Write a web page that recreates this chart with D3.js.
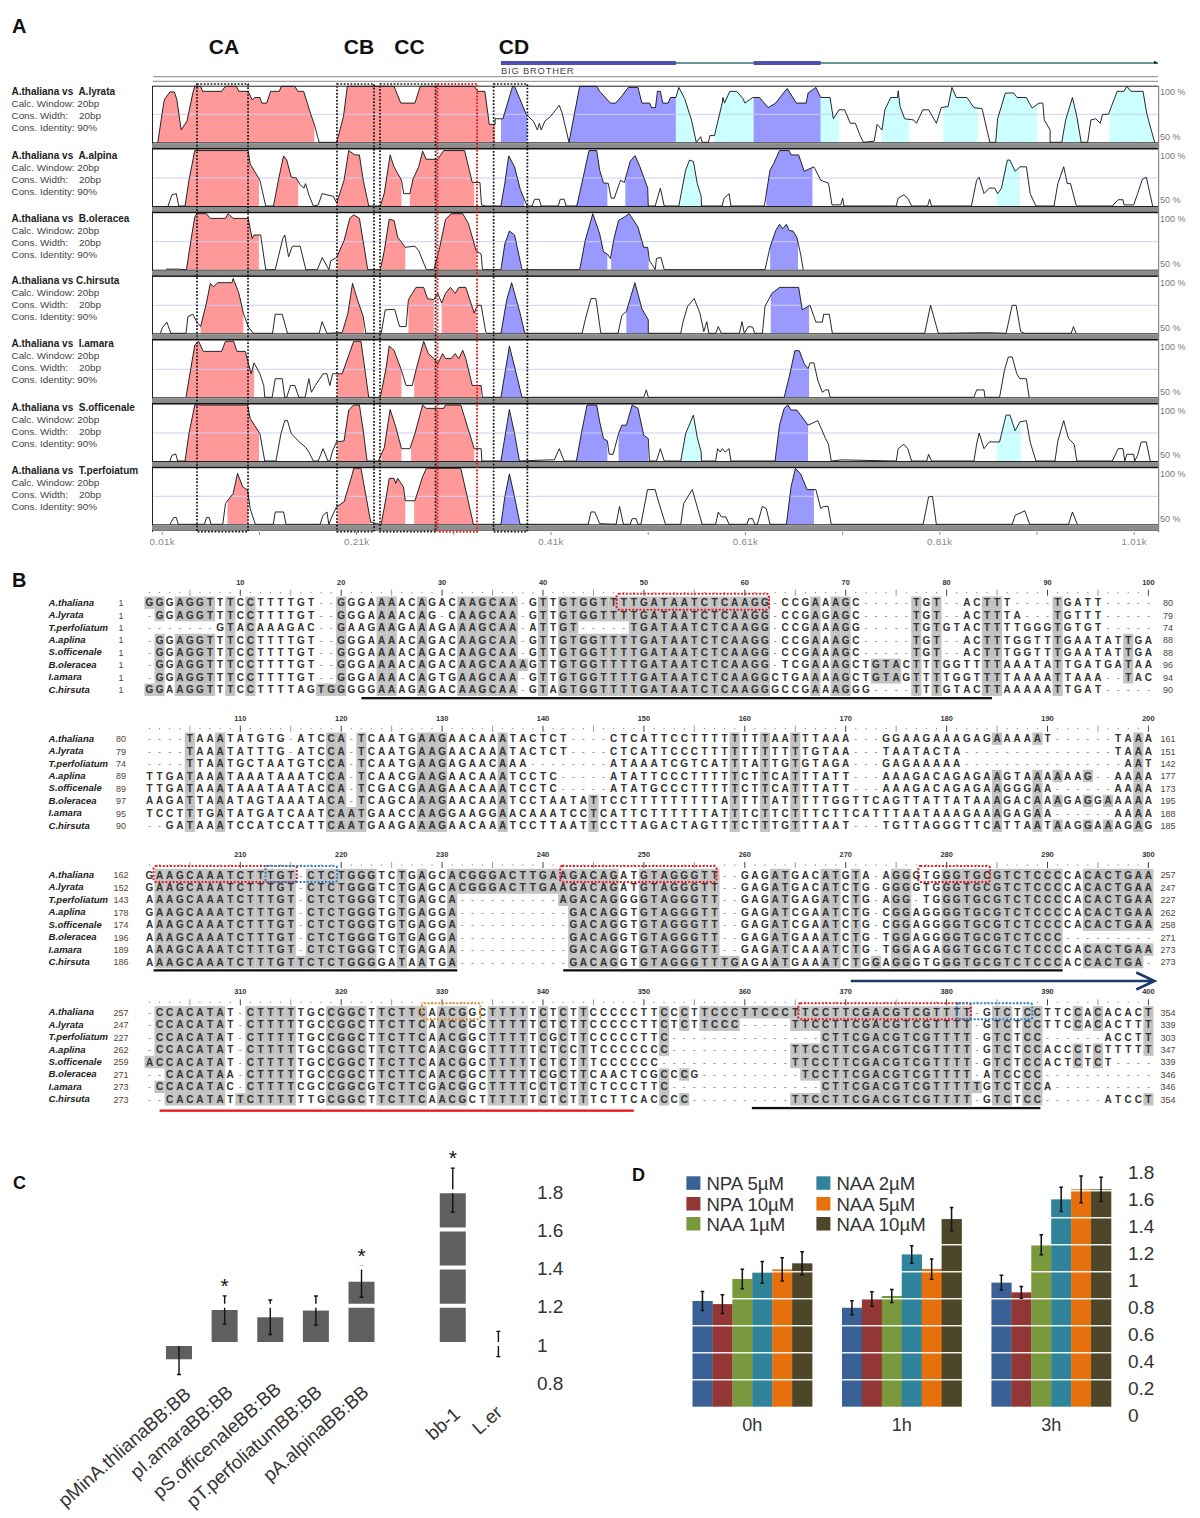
<!DOCTYPE html>
<html><head><meta charset="utf-8"><style>html,body{margin:0;padding:0;background:#fff}svg{display:block}text{font-family:"Liberation Sans",Arial,sans-serif}</style>
<script src="https://cdnjs.cloudflare.com/ajax/libs/d3/7.8.5/d3.min.js"></script></head><body><svg id="c" width="1200" height="1518"></svg>
<script>
// ---------- Panel A data: [position bp, identity %] ----------
const lyrataProfile=[[6,50],[12,85],[13.4,89],[18.5,95],[23,95],[25.6,88],[30,61],[36,69],[42,94],[44,100],[50,100],[52,95.5],[71.6,95.5],[75.6,100],[86.6,100],[89.4,95.5],[99,95.5],[103,88],[106,90],[111,90],[113,85],[118,85],[122,95.5],[131,95.5],[133,100],[147,100],[150,95.5],[156,95.5],[163,76],[167,66],[172,50],[190,50],[197,73],[201,100],[249,100],[256,85],[270.5,85],[276,100],[331.5,100],[335,95.5],[342.5,95.5],[347,66],[353,66],[353,71],[361,71],[371,100],[373,100],[385,75],[392.5,68.7],[396.5,61],[398.5,67],[400.4,61],[404.3,69],[410,73],[419,83],[422,76],[429,50],[440,100],[457.5,100],[460.6,95.5],[471.6,85],[477,85],[484,92],[490,99],[500,99],[504,85],[512,85],[514,81],[518,81],[520,95.5],[523,95.5],[525.5,85],[531,85],[533.4,90],[539,90],[542,99],[548,89],[555,70],[560,50],[562,52],[564.5,55],[566,50],[572.4,50],[574,56],[578.7,56],[586.6,85],[587.4,90],[589,85],[594.5,95.5],[601.5,95.5],[608,89],[610,85],[618,90],[625,90],[634,81],[641.7,85],[649.6,94],[653.5,98],[663,85],[673,85],[675,94],[683,99],[688,90],[697.6,90],[701,71],[706.7,79],[712.6,79],[718.5,67],[723.6,67],[729,55],[732,50],[743,51],[746,66],[751,61],[754,79],[760,90],[767,90],[767.7,96],[769.6,82],[774.4,71],[783.4,70],[786.6,67],[793,79],[799,79],[807,67],[812,81],[819,82],[823,99],[827.5,90],[838.5,90],[845.6,81],[854,80],[862,50],[868,50],[870,71],[878,94],[886.6,94],[890,90],[899.6,90],[905.5,80.5],[912.6,85],[916.5,85],[918,70],[924,61],[924,50],[936,50],[940,70],[947,90],[951.5,73],[956,50],[962.6,50],[966,70],[971,71],[975.6,67],[978,75],[984,75],[993,95.5],[1000,95.5],[1003,100],[1007,95.5],[1019.6,95.5],[1023.6,75],[1031.5,50]];
const alpinaProfile=[[16.5,50],[20.5,60],[25,61],[27.5,50],[34,50],[38,73],[44,99.5],[99,99.5],[101,87.5],[111,73],[117,50],[125,50],[130.7,76],[135.4,94.7],[138.6,91],[143.3,75.7],[148.4,75],[152.4,69],[156.3,66],[158,70],[161.4,60],[166,50],[171,51],[175,61],[180,60],[186.6,58.6],[190,52.7],[197.6,73],[202.4,99.5],[208.6,95.6],[213.4,95.6],[217.3,73],[223,50],[235,50],[239,61.5],[245,95.6],[249,85],[256.7,73],[259,61],[265.3,61],[268.5,74],[274.4,85],[278.4,99],[282,91.7],[294,91.7],[300,99.5],[321.6,99.5],[329.5,71],[337.4,71],[339,51],[343,50],[359,50],[363,70.4],[367,94.7],[373,85],[379,64.5],[386,50],[391,50],[393.7,56],[398.4,56],[400.4,50],[418,50],[420,56],[424,56],[426,50],[437,50],[443.7,76],[449.6,99.5],[457.5,99.5],[460.6,82],[464.5,70.4],[469.3,70.4],[472.4,57],[475.6,57],[482,73],[486,71],[492,90],[497,95],[502,85],[510,66],[510.6,50],[517.7,50],[523,66],[527,50],[542,50],[549,82],[553,91],[557,89.7],[561,70],[565,58.6],[565.3,50],[586.6,50],[588.6,57],[593.7,61],[595.6,50],[630,50],[635.8,82],[639.7,88],[645.6,99.5],[655.5,99.5],[657.5,95.6],[665.3,95.6],[671,81],[681,85],[688,73],[696,70.4],[699.6,51],[708.6,51],[710.6,57],[711.8,50],[765.7,50],[767.7,57],[773.6,60],[777.5,57],[781.5,50],[798,50],[800,56],[802,50],[843,50],[848.4,73],[851,75.7],[856,61],[861.4,66],[867,66],[870,61],[874,66],[880,91],[882.7,91],[888,81],[893,85],[899.6,85],[903.5,61],[909.4,50],[928,50],[932,70],[938,85],[941.7,70],[945,70],[950.7,51],[952,50],[988,50],[994,55.6],[999,55.6],[1000,51],[1010,51],[1014,61],[1019,74],[1023,75.7],[1029.5,50]];
const oleraceaProfile=[[14.6,50.5],[26.4,50.5],[35.4,50],[40,76],[44,97],[46,100],[56,100],[60,95.8],[75.6,95.8],[78.3,100],[83.5,95.8],[99,95.8],[103,77.8],[105,81],[111.8,81],[117,50],[126.8,50],[134.6,78],[136.6,81],[140.5,61.6],[144.5,71],[152.4,71],[158.3,50],[170,50],[175.2,60.8],[182,50],[184,58],[189.8,60.8],[197.6,76],[203.5,95.8],[207.5,99],[213.4,95.8],[217.3,75],[222,50],[235,50],[239,67],[244,95],[249,94],[252.8,79],[260.6,70],[270.5,71],[274.4,67],[282.3,50],[290,50],[296,70],[302,95],[308,100],[319.7,100],[325.6,91],[333.5,67],[338.6,64],[340,50],[359,50],[363,73],[367.7,84.5],[373,81],[380.7,50],[440,50],[445.7,76],[453.5,100],[460.6,82],[464.5,66],[468.5,64],[471.6,60],[475.6,79],[480,94],[486,97],[491,100],[500,88],[505.9,70],[510,70],[511.8,58],[515,54],[517.7,50],[519,60],[523.6,61],[527,50],[630.7,50],[635.8,70],[641.7,85],[645.6,90.5],[648.8,86.6],[652.7,90.5],[655.5,85],[659.4,84.5],[663.4,79],[667.3,64],[670,50]];
const hirsutaProfile=[[8.7,50],[10.6,55],[15.3,60],[19.3,50],[35,50],[37,65],[42,67],[46,60.4],[50,56],[56,77],[60,94.6],[63,91.6],[67.7,95.2],[82.3,95.2],[83.5,99],[89.4,85.7],[94,68],[99,56],[104,50],[124,50],[126.8,67],[134,67],[139.4,50],[172,50],[175,60.4],[180,50],[195.7,50.6],[201.6,68],[206.3,94.6],[211.4,80],[217.3,65],[220,50],[235.8,50],[240,71],[249.6,71.4],[254.7,56],[261.4,56],[263.8,80],[271.6,91],[279.5,91],[283.4,81],[290,80],[294,85.7],[298,77],[302,85.7],[307,91],[312,85.7],[315.7,91],[322.8,91],[331.5,68],[334.6,75],[338.6,75],[343.3,51.5],[345,50],[359,50],[365,80],[370,95.2],[378.7,68],[383.5,50],[442.5,50],[445.7,62],[451.6,81],[456.7,81],[460.6,57],[461.8,50],[479.5,50],[483.4,66],[488,69.4],[496.8,95.2],[504,72],[510.6,62],[510.6,50],[544,50],[546.4,60.4],[551,74],[557.8,81],[563.7,68],[567.7,51.5],[570.8,60.4],[572.8,50],[579.9,50],[582.6,56],[585.8,50],[604.3,50],[607,60.4],[609.4,50],[613.4,56],[618,55.5],[620,50],[628,50],[630.7,74],[637.8,85.7],[645.6,91],[665.3,91],[669,71],[677,75],[683,60],[689.7,60],[691,67],[696.8,67],[700,50],[763.8,50],[795,50],[801,75],[809,50],[854,50.5],[861,50.5],[878.7,50],[885,75],[889,75],[893.7,51.5],[897.6,50],[945.7,50],[948,56],[950.7,50]];
const amaraProfile=[[35,50],[39,71],[44,96.7],[48,100],[52.8,91],[71.6,91],[75.6,100],[84,100],[87.4,91],[96,91],[102,71],[105,80.7],[111,71],[115,60.5],[116,50],[123.6,50],[126.8,66.6],[134,66.6],[136.6,50],[138.6,50],[142.5,60.5],[147,60.5],[151,50],[157.5,50],[161.4,66.6],[164,54.5],[168,60.5],[176,71],[180,71],[183,60.5],[185.8,71],[195.7,71],[207.5,100],[215,100],[223,50],[235,50],[241,77],[244,95.8],[249,92],[256.7,74],[261.4,60.5],[267.7,60.5],[272.4,77],[279.5,100],[284.3,89],[290,84.6],[294,80],[299,89],[302,84.6],[308,84.6],[311.8,89],[315.7,84.6],[319.7,92],[322.8,84.6],[329.5,60.5],[338.6,60.5],[340,50],[359,50],[363,71],[367.7,95.8],[374.8,71],[380.7,50],[505.9,50],[508.6,56.6],[510.6,50],[650.4,50],[655.5,68],[661.4,91.6],[666,91.6],[671,80],[675,75.6],[677,80.7],[681,80.7],[685,65],[689.7,54.5],[692.9,56.6],[696,56.6],[697.6,50],[845.6,50],[848.4,56.6],[856,56.6],[857,50],[872,50],[877,74],[881,86],[885,86],[889.7,71],[893,66.6],[899.6,66.6],[902.4,50]];
const officinaleProfile=[[18.5,50],[20.5,55],[24.4,56.3],[26.4,50],[34,50],[38,74.4],[44,100],[98.4,100],[101,88],[111,74.4],[116,50],[127.5,50],[132.7,74.4],[136.6,86],[139.4,86],[143.3,74.4],[150.4,68],[158.3,62],[161.4,58],[166,50],[171,50],[176,61],[181,50],[183,50],[185.8,59],[189.8,67],[197.6,68],[202.4,95.5],[207.5,100],[213.4,100],[217.3,77.4],[221.3,50],[233,50],[239,62],[245,96],[250.8,80.4],[256.7,61],[265.3,61],[270.5,74.4],[278.4,100],[282.3,97],[300,97],[302,100],[317.7,100],[331.5,61],[338.6,61],[339.4,50],[359,50],[363,71],[367.7,96],[373,74.4],[378,50],[408.3,51],[414,51],[419,61],[424,50],[436.6,50],[441.7,74.4],[447.6,100],[457.5,100],[460.6,85],[464.5,70],[468.5,68],[470.4,56],[474.4,56],[480,74.4],[483.4,82],[488,82],[494,100],[500,97],[505.9,73],[510.6,70],[511.8,50],[519,50],[523,61],[527,50],[544,50],[549,74.4],[557,91],[561,71],[565,58],[565.3,50],[579.9,50],[581.9,61],[584.6,58],[586.6,61],[589.7,58],[593.7,61],[595.6,50],[641,50],[645.6,82],[650.4,97],[654.3,100],[657.5,95.5],[663.4,95.5],[675,82],[685,86],[687,82],[693,70],[696,65],[698.8,50],[709.4,51],[765.7,50],[767.7,61],[773.6,65],[777.5,61],[781.5,50],[797,50],[799,56],[802,50],[845.6,50],[848.4,65],[851,75],[856,61],[861.4,67],[872,67],[878.7,91],[882.7,91],[888,77],[893,85],[899.6,86],[903.5,67],[909.4,50],[929,50],[932,68],[938,86],[943,70],[948.8,65],[951.5,50],[988,50],[994,61],[999,61],[1000.8,50],[1003,56],[1010,56],[1011,50],[1014,55],[1017.7,67],[1023,67],[1027,50]];
const perfoliatumProfile=[[18.5,50],[22.4,56],[25,56],[27,50],[54,50],[56,56],[59,56],[60.6,50],[72.8,50],[75.6,68.6],[83.5,77.5],[88,95.5],[93.3,83.5],[98.4,80.5],[101,64],[106.3,50],[124.8,50],[126.8,61],[135.4,61],[137.8,50],[173,50],[176,58],[180,61],[181.9,50],[185,56.6],[189.8,65.6],[197.6,70],[206.3,95.5],[207.5,100],[215,100],[225,52],[231,50.6],[235.8,50],[241,74.5],[244,91],[249,91],[250.8,86.5],[252.8,91],[258.7,83.5],[260.6,71],[270.5,71],[278.4,92.5],[282.3,100],[317.7,100],[330.7,50],[337.4,50],[359,50],[363,74.5],[367.7,95],[373,74.5],[378.7,50],[448.8,50],[451.6,61],[455.5,61],[460.6,50.6],[477.5,50],[481,66],[485,50],[492,50],[494,55],[498,55],[500,50],[503,50],[509.8,81],[517.7,81],[519.6,74.5],[528.3,50],[544,50],[547,68.6],[555.9,81],[566,50],[579.9,50],[582.6,61],[585.8,56.6],[590.5,56.6],[593.7,50],[612,50],[614,55],[618,55],[620,50],[622.8,50],[628,66],[632,64],[635.8,50],[652.7,50],[657.5,83.5],[662,100],[667.3,95],[674,81],[683,81],[688,64],[691,66],[695.6,66],[698.8,50],[793.3,50],[799,74.5],[803,75],[807,50],[885,50],[888,58],[898,62],[903,50],[943,50],[947,61],[952,50]];
// conserved regions: [start bp, end bp, kind]  (n = non-coding, e = exon, u = UTR)
const lyrataRegions=[[6,167,"n"],[190,353,"n"],[359,386,"e"],[429,539,"e"],[539,560,"u"],[578.7,619,"u"],[619,688,"e"],[688,707,"u"],[751,779,"u"],[814,850,"u"],[868,911,"u"],[936,956,"u"],[985,1031.5,"u"]];
const alpinaRegions=[[34,110,"n"],[125,150.4,"n"],[190,223,"n"],[235,256.7,"n"],[265.3,331.5,"n"],[359,383,"e"],[437,468.5,"e"],[487,510.6,"e"],[542,565,"u"],[632,679.5,"e"],[869,893,"u"]];
const oleraceaRegions=[[35.4,110,"n"],[191,222,"n"],[236,260.6,"n"],[291,333.5,"n"],[359,380.7,"e"],[440,468.5,"e"],[472.4,511,"e"],[636,664.6,"e"]];
const hirsutaRegions=[[50,94,"n"],[196.5,218,"n"],[263.8,290,"n"],[298,333.5,"n"],[359,383.5,"e"],[488,510.6,"e"],[636.6,676,"e"]];
const amaraRegions=[[35,105,"n"],[190.5,223,"n"],[236,256.7,"n"],[269.7,338.6,"n"],[359,380.7,"e"],[650.4,676,"e"]];
const officinaleRegions=[[34,110,"n"],[191,221,"n"],[236,256.7,"n"],[266.5,331.5,"n"],[359,378,"e"],[436.6,468.5,"e"],[480,510.6,"e"],[544,565,"u"],[641,675,"e"],[869,893.7,"u"]];
const perfoliatumRegions=[[77.6,99,"n"],[191,225,"n"],[235.8,260.6,"n"],[269.7,330.7,"n"],[359,378.7,"e"],[652.7,681,"e"]];
const comparisonNames=["A.thaliana vs  A.lyrata","A.thaliana vs  A.alpina","A.thaliana vs  B.oleracea","A.thaliana vs C.hirsuta","A.thaliana vs  I.amara","A.thaliana vs  S.officenale","A.thaliana vs  T.perfoiatum"];
const comparisonNotes=["Calc. Window: 20bp","Cons. Width:    20bp","Cons. Identity: 90%"];
const profiles=[lyrataProfile,alpinaProfile,oleraceaProfile,hirsutaProfile,amaraProfile,officinaleProfile,perfoliatumProfile];
const regionSets=[lyrataRegions,alpinaRegions,oleraceaRegions,hirsutaRegions,amaraRegions,officinaleRegions,perfoliatumRegions];
const cnsNames=["CA","CB","CC","CD"];
const cnsBoxes=[[46.3,98.8,"k"],[190.3,228.4,"k"],[234.6,291.7,"k"],[293.7,334.4,"r"],[351.5,386.2,"k"]];
const geneExons=[[359,539],[619,688]];
const axisBp=[10,110,210,310,410,510,610,710,810,910,1010];

// ---------- Panel B data ----------
const speciesNames=["A.thaliana","A.lyrata","T.perfoliatum","A.aplina","S.officenale","B.oleracea","I.amara","C.hirsuta"];
const startNumbers=[[1,1,1,1,1,1,1,1],[80,79,74,89,89,97,95,90],[162,152,143,178,174,196,189,186],[257,247,227,262,259,271,273,273]];
const endNumbers=[[80,79,74,88,88,96,94,90],[161,151,142,177,173,195,188,185],[257,247,227,262,258,271,273,273],[354,339,303,347,339,346,346,354]];
const alignment1=[
"GGGAGGTTTC CTTTTGT--G GGAAAACAGA CAAGCAA-GT TGTGGTTTTG ATAATCTCAA GG-CCGAAAG C-----TGT- -ACTTT---- TGATT-----",
"-GGAGGTTTC CTTTTGT--G GGAAAACAG- CAAGCAA-GT TGTGGTTTTG ATAATCTCAA GG-CCGAGAG C-----TGT- -ACTTTA--- TGTTT-----",
"-------GTA CAAAGAC--G AAGAAGAAAG AAAGCAA-AT TGT-----TG ATAATCTCAA GG-CCGAAAG G-----TGTG TACTTTTGGG TGTGT-----",
"-GGAGGTTTC CTTTTGT--G GGAAAACAGA CAAGCAA-GT TGTGGTTTTG ATAATCTCAA GG-CCGAAAG C-----TGT- -ACTTTGGTT TGAATATTGA",
"-GGAGGTTTC CTTTTGT--G GGAAAACAGA CAAGCAA-GT TGTGGTTTTG ATAATCTCAA GG-CCGAAAG C-----TGT- -ACTTTGGTT TGAATATTGA",
"-GGAGGTTTC CTTTTGT--G GGAAAACAGA CAAGCAAAGT TGTGGTTTTG ATAATCTCAA GG-TCGAAAG CTGTACTTTG GTTTTAAATA TTGATGATAA",
"-GGAGGTTTC CTTTTGT--G GGAAAACAGT GAAGCAA-GT TGTGGTTTTG ATAATCTCAA GGCTGAAAAG CTGTAGTTTT GGTTTTAAAA TTAAA--TAC",
"GGAAGGTTTC CTTTTAGTGG GGGAAAGAGA CAAGCAA-GT AGTGGTTTTG ATAATCTCAA GGGCCGAAAG GG----TTTG TACTTAAAAA TTGAT-----"];
const alignment2=[
"----TAAATA TGTG-ATCCA -TCAATGAAG AACAAATACT CT----CTCA TTCCTTTTTT TTAATTTAAA ---GGAAGAA AGAGAAAAAT ------TAAA",
"----TAAATA TTTG-ATCCA -TCAATGAAG AACAAATACT CT----CTCA TTCCCTTTTT TTTTTTGTAA ---TAATACT A--------- ------TAAA",
"----TTAATG CTAATGTCCA -TCAATGAAG AGAACAAA-- ------ATAA ATCGTCATTT ATTGTGTAGA ---GAGAAAA A--------- -------AAT",
"TTGATAAATA AATAAATCCA -TCAACGAAG AACAAATCCT C-----ATAT TCCCTTTTTC TTCATTTATT ---AAAGACA GAGAAGTAAA AAAG--AAAA",
"TTGATAAATA AATAATACCA -TCGACGAAG AACAAATCCT C-----ATAT GCCCTTTTTC TTCATTTATT ---AAAGACA GAGAAGGGAA ------AAAA",
"AAGATTAAAT AGTAAATACA -TCAGCAAAG AACAAATCCT AATATTCCTT TTTTTTTATT TTATTTTTGG TTCAGTTATT ATAAAGACAA AGAGGAAAAA",
"TCCTTTGATA TGATCAATCA ATGAACCAAG GAAGGAACAA ATCCTCATTC TTTTTTATTT CTTCTTTCTT CATTTAATAA AGAAAGAGAA ------AAAA",
"--GATAAATC CATCCATTCA ATGAAGAAAG AACAAATCCT TAATTCCTTA GACTAGTTTC TTTGTTTAAT ---TGTTAGG GTTCATTAAT AAGGAAAGAG"];
const alignment3=[
"GAAGCAAATC TTTGT-CTCT GGGTCTGAGC ACGGGACTTG AAGACAGATG TAGGGTT--G AGATGACATG TA-AGGGTGG GTGCGTCTCC CCACACTGAA",
"GAAGCAAATC TTTGT-CTCT GGGTCTGAGC ACGGGACTTG AAGACAGATG TAGGGTT--G AGATGACATC TG-GGGGTGG GTGCGTCTCC CCACACTGAA",
"AAAGCAAATC TTTGT-CTCT GGGTCTGAGC A--------- -AGACAGGGG TAGGGTT--G AGATGAGATC TG-AGG-TGG GTGCGTCTCC CCACACTGAA",
"GAAGCAAATC TTTGT-CTCT GGGTGTGAGG A--------- --GACAGGTG TAGGGTT--G AGATCGAATC TG-CGGAGGG GTGCGTCTCC CCACACTGAA",
"AAAGCAAATC TTTGT-CTCT GGGTGTGAGG A--------- --GACAGGTG TAGGGTT--G AGATCGAATC TG-CGGAGGG GTGCGTCTCC CCACACTGAA",
"AAAGCAAATC TTTGT-CTCT GGGTGTGAGG A--------- --GACAGGTG TAGGGTT--G AGATGAAATC TG-TGGAGGG GTGCGTCTCC C---------",
"AAAGCAAATC TTTGT-CTCT GGGTCTGAGA A--------- --GACAGGTG TAGGGTT--G AGATCAAATC TG-TGGAGAG GTGCGTCTCC CCACACTGAA",
"AAAGCAAATC TTTGTTCTCT GGGGATAATG A--------- --GACAGGTG TAGGGTTTGA GAATGAAATC TGGAGGGTGG GTGCGTCTCC CACCACTGA-"];
const alignment4=[
"-CCACATAT- CTTTTTGCCG GCTTCTTCAA CGGCTTTTTC TCTTCCCCCT TCCCTTCCCT TCCCTTCCTT CGACGTCGTT TT-GTCTCCT TCCACACACT",
"-CCACATAT- CTTTTTGCCG GCTTCTTCAA CGGCTTTTTC TCTTCCCCCT TCTCTTCCC- ----TTCCTT CGACGTCGTT TT-GTCTCCT TCCACACTTT",
"-CCACATAT- CTTTTTGCCG GCTTCTTCAA CGGCTTTTTC GCTTCCCCCT TC-------- -------CTT CGACGTCGTT TT-GTCTCC- -----ACCTT",
"-CCACATAT- CTTTTTGCCG GCTTCTTCAA CGGCTTTTTC TCCTTCCCCC CC-------- ----TTCCTT CGACGTCGTT TT-GTCTCCA CCCTCTTTTT",
"ACCACATAT- CTTTTTGCCG GCTTCTTCAA CGGCTTTTTC TCTTTCCCCC C--------- ----TTCCTT CGACGTCGTT TT-GTCTCCA CTCTCT----",
"--CACATAA- CTTTTTGCCG GCTTCTTCAA CGGCTTTTTC GCTTCAACTC GCCCG----- -----TCCTT CGACGTCGTT TT-ATCCCC- ----------",
"-CCACATAC- CTTTTCGCCG GCGTCTTCGA CGGCTTTTCC TCTTCTCCCT TC-------- -------CTT CGACGTCGTT TTTGTCTCCA ----------",
"--CACATATT CTTTTTTGCG GCTTCTTCAA CGCTTTTTTC TCTTTCTTCA CCCC------ ----TTCCTT CGACGTCGTT TT-GTCTCC- -----ATCCT"];
// dotted annotation boxes: [block, first column, last column, colour key]
const motifBoxes=[[0,47.3,62.4,"r"],[2,1.4,15.6,"r"],[2,12.5,19.6,"b"],[2,41.7,57.2,"r"],[2,77.2,84.3,"r"],[3,28,33.8,"o"],[3,65.3,82.4,"r"],[3,81,88.5,"b"]];
// underlines: [block, first column, last column, colour key]
const underlines=[[0,22,84.5,"k"],[2,1.4,31.5,"k"],[2,42,91.5,"k"],[3,2,49,"r"],[3,60.7,89.3,"k"]];

// ---------- Panel C data ----------
const constructNames=["pMinA.thlianaBB:BB","pI.amaraBB:BB","pS.officenaleBB:BB","pT.perfoliatumBB:BB","pA.alpinaBB:BB","","bb-1","L.er"];
const constructValues=[0.92,1.178,1.14,1.175,1.326,null,1.806,1.0];
const constructErrors=[0.08,0.074,0.09,0.076,0.081,null,0.115,0.066];
const constructStars=[false,true,false,false,true,false,true,false];
const constructTicks=[0.8,1,1.2,1.4,1.6,1.8];

// ---------- Panel D data ----------
const timePoints=["0h","1h","3h"];
const treatments=["NPA 5µM","NPA 10µM","NAA 1µM","NAA 2µM","NAA 5µM","NAA 10µM"];
const treatmentColors=["#3a6196","#923636","#7a993d","#2f849c","#e5700c","#4d4629"];
const hourZero=[0.783,0.76,0.946,0.995,1.017,1.062];
const hourOne=[0.733,0.798,0.82,1.128,1.02,1.39];
const hourThree=[0.919,0.847,1.2,1.536,1.61,1.61];
const hourZeroErr=[0.07,0.069,0.073,0.08,0.086,0.085];
const hourOneErr=[0.052,0.054,0.049,0.065,0.075,0.086];
const hourThreeErr=[0.054,0.044,0.074,0.09,0.099,0.09];
const auxinTicks=[0,0.2,0.4,0.6,0.8,1,1.2,1.4,1.6,1.8];

const svg=d3.select("#c");
const panelLetter=(s,x,y,size)=>svg.append("text").attr("x",x).attr("y",y).attr("font-size",size).attr("font-weight",700).attr("fill","#111").text(s);
panelLetter("A",12,33,20);panelLetter("B",12,587,20);panelLetter("C",13,1189,18);panelLetter("D",632,1181,18);

// ===== Panel A =====
const bp=d3.scaleLinear([0,1035],[152,1158]);
const trackTop=[86.3,150,213.7,277.3,341.3,405,468.3],trackH=56;
const fills={n:"#ff9999",e:"#9999ff",u:"#ccffff"};
const A=svg.append("g");
[224,359,409.5,514].forEach((x,i)=>A.append("text").attr("x",x).attr("y",54).attr("text-anchor","middle").attr("font-size",21).attr("font-weight",700).attr("fill","#111").text(cnsNames[i]));
// gene model
A.append("line").attr("x1",bp(359)).attr("x2",bp(1035)).attr("y1",63).attr("y2",63).attr("stroke","#2f7a7a").attr("stroke-width",1.6);
A.selectAll(".ex").data(geneExons).join("rect").attr("x",d=>bp(d[0])).attr("width",d=>bp(d[1])-bp(d[0])).attr("y",61).attr("height",4).attr("fill","#5050b0");
A.append("path").attr("d",`M${bp(1035)-4},60.5L${bp(1035)},63.5L${bp(1035)-4},63.5Z`).attr("fill","#111");
A.append("text").attr("x",501).attr("y",74).attr("font-size",9.4).attr("letter-spacing",.8).attr("fill","#444").text("BIG BROTHER");
[76.7,81.3].forEach(y=>A.append("line").attr("x1",153).attr("x2",1158).attr("y1",y).attr("y2",y).attr("stroke","#888").attr("stroke-width",1));
A.append("rect").attr("x",152).attr("y",86).attr("width",1).attr("height",446).attr("fill","#222");
A.append("rect").attr("x",1158).attr("y",86).attr("width",1.2).attr("height",446).attr("fill","#888");
const defs=svg.append("defs");
profiles.forEach((p,i)=>{
 const top=trackTop[i],base=top+trackH,y=d3.scaleLinear([50,100],[base,top]);
 const g=A.append("g");
 regionSets[i].forEach((r,j)=>{
  const id=`clip${i}_${j}`;
  defs.append("clipPath").attr("id",id).append("rect").attr("x",bp(r[0])).attr("width",bp(r[1])-bp(r[0])).attr("y",top-1).attr("height",trackH+1);
  g.append("path").attr("clip-path",`url(#${id})`).attr("fill",fills[r[2]]).attr("d",d3.area().x(d=>bp(d[0])).y0(base).y1(d=>y(d[1]))(p));
 });
 g.append("line").attr("x1",153).attr("x2",1158).attr("y1",y(75)).attr("y2",y(75)).attr("stroke","#cfcff5").attr("stroke-width",1);
 g.append("path").attr("fill","none").attr("stroke","#111").attr("stroke-width",.9).attr("d",d3.line().x(d=>bp(d[0])).y(d=>y(d[1]))(p));
 // band below
 g.append("rect").attr("x",152).attr("y",base).attr("width",1006).attr("height",1).attr("fill","#222");
 g.append("rect").attr("x",152).attr("y",base+1).attr("width",1006).attr("height",4.6).attr("fill","#8c8c8c");
 if(i<6)g.append("rect").attr("x",152).attr("y",base+5.6).attr("width",1006).attr("height",1.6).attr("fill","#111");
 else g.append("rect").attr("x",152).attr("y",base+5.6).attr("width",1006).attr("height",.9).attr("fill","#555");
 if(i===0)g.append("rect").attr("x",152).attr("y",top-.6).attr("width",1006).attr("height",1).attr("fill","#222");
 g.append("text").attr("x",1160).attr("y",top+8.5).attr("font-size",9).attr("fill","#777").text("100 %");
 g.append("text").attr("x",1160).attr("y",base-2.8).attr("font-size",9).attr("fill","#777").text("50 %");
 const ty=[91.7,156,219,280.3,343.3,407.7,470.7][i];
 g.append("text").attr("x",11.5).attr("y",ty+3.2).attr("font-size",10).attr("font-weight",700).attr("fill","#222").style("white-space","pre").text(comparisonNames[i]);
 comparisonNotes.forEach((t,k)=>g.append("text").attr("x",11.5).attr("y",ty+3.2+(k+1)*12).attr("font-size",9.9).attr("fill","#444").style("white-space","pre").text(t));
});
cnsBoxes.forEach(b=>{
 const c=b[2]==="r"?"#e81c1c":"#111";
 A.append("rect").attr("x",bp(b[0])).attr("width",bp(b[1])-bp(b[0])).attr("y",84).attr("height",447.7).attr("fill","none").attr("stroke",c).attr("stroke-width",b[2]==="r"?2:1.7).attr("stroke-dasharray","1.7 1.7");
});
const axG=A.append("g").attr("transform","translate(0,532)").call(d3.axisBottom(bp).tickValues(axisBp).tickSize(3).tickFormat(d=>((d-10)%200===0?(d/1000).toFixed(2)+"k":"")));
axG.select(".domain").remove();axG.selectAll("line").attr("stroke","#888");
axG.selectAll("text").attr("font-size",9.8).attr("fill","#888").attr("y",5.6).attr("letter-spacing",.3).attr("font-family","Liberation Sans");

// ===== Panel B =====
const col=d3.scaleLinear([1,100],[149.5,1148.4]);
const blockTop=[602.7,738.7,875,1012.3],rowH=12.43;
const boxColor={r:"#e01f26",b:"#2a83c0",o:"#e38a2c",k:"#111"};
[alignment1,alignment2,alignment3,alignment4].forEach((raw,bi)=>{
 const rows=raw.map(s=>s.replace(/ /g,""));
 const g=svg.append("g");
 const rowY=i=>blockTop[bi]+i*rowH;
 const off=bi*100;
 // ruler
 d3.range(1,101).forEach(c=>{
  const x=col(c),major=c%10===0,mid=c%5===0;
  g.append("rect").attr("x",x-.5).attr("width",1).attr("y",blockTop[bi]-(mid?13:10.5)).attr("height",mid?6:1).attr("fill",major?"#444":mid?"#999":"#666");
  if(major)g.append("text").attr("x",x).attr("y",blockTop[bi]-18).attr("text-anchor","middle").attr("font-size",7.4).attr("font-weight",700).attr("fill","#333").text(c+off);
 });
 // shading: a column is shaded when all its non-gap residues agree
 const shaded=d3.range(100).map(c=>{const s=new Set(rows.map(r=>r[c]).filter(ch=>ch&&ch!=="-"));return s.size===1;});
 rows.forEach((r,i)=>{
  [...r].forEach((ch,c)=>{
   if(ch!=="-"&&shaded[c])g.append("rect").attr("x",col(c+1)-5.05).attr("width",10.1).attr("y",rowY(i)-6.2).attr("height",12.43).attr("fill","#c2c2c2");
  });
 });
 rows.forEach((r,i)=>{
  g.append("text").attr("x",48.6).attr("y",rowY(i)+3).attr("font-size",9.5).attr("font-weight",700).attr("font-style","italic").attr("fill","#222").text(speciesNames[i]);
  g.append("text").attr("x",121).attr("y",rowY(i)+3.4).attr("text-anchor","middle").attr("font-size",9).attr("fill","#543").text(startNumbers[bi][i]);
  g.append("text").attr("x",1168).attr("y",rowY(i)+3.4).attr("text-anchor","middle").attr("font-size",9).attr("fill","#543").text(endNumbers[bi][i]);
  [...r].forEach((ch,c)=>{
   g.append("text").attr("x",col(c+1)).attr("y",rowY(i)+3.6).attr("text-anchor","middle").attr("font-size",ch==="-"?9:10).attr("font-weight",ch==="-"?400:700).attr("fill",ch==="-"?"#777":"#333").text(ch);
  });
 });
 motifBoxes.filter(b=>b[0]===bi).forEach(b=>{
  g.append("rect").attr("x",col(b[1])).attr("width",col(b[2])-col(b[1])).attr("y",blockTop[bi]-9).attr("height",16).attr("rx",2).attr("fill","none").attr("stroke",boxColor[b[3]]).attr("stroke-width",2).attr("stroke-dasharray","2 1.6");
 });
 underlines.filter(u=>u[0]===bi).forEach(u=>{
  const y=blockTop[bi]+7*rowH+(bi===0?8.4:bi===2?8.3:u[3]==="r"?11.3:8.7);
  g.append("rect").attr("x",col(u[1])).attr("width",col(u[2])-col(u[1])).attr("y",y-1.1).attr("height",2.3).attr("fill",u[3]==="r"?"#e8141c":"#111");
 });
 if(bi===2){
  const yA=981;
  g.append("path").attr("fill","none").attr("stroke","#1f3a68").attr("stroke-width",2.6).attr("d",`M${col(70.5)},${yA}L${col(100.4)},${yA}M${col(98.8)},${yA-8.5}L${col(100.6)},${yA}L${col(98.8)},${yA+8.5}`);
 }
});

// ===== Panel C =====
const C=svg.append("g");
const cx=d3.scaleBand(d3.range(constructNames.length),[156.2,521.2]).padding(0);
const cy=d3.scaleLinear([1,1.8],[1344,1191.2]);
const barW=26;
const labelAnchorX=[13,9.6,12,7.3,8.5,0,8.5,5.1],labelAnchorY=[1396,1394,1391,1394,1394,0,1416,1414];
constructValues.forEach((v,i)=>{
 if(v==null)return;
 const xc=cx(i)+cx.bandwidth()/2;
 C.append("rect").attr("x",xc-barW/2).attr("width",barW).attr("y",Math.min(cy(v),cy(1))).attr("height",Math.abs(cy(v)-cy(1))).attr("fill","#5f5f5f");
 const e=constructErrors[i];
 C.append("path").attr("fill","none").attr("stroke","#111").attr("stroke-width",1.4).attr("d",`M${xc-2},${cy(v+e)}H${xc+2}M${xc},${cy(v+e)}V${cy(v-e)}M${xc-2},${cy(v-e)}H${xc+2}`);
 if(constructStars[i])C.append("text").attr("x",xc).attr("y",cy(v+e)-3).attr("text-anchor","middle").attr("font-size",21).attr("fill","#111").text("*");
 C.append("text").attr("transform",`translate(${xc+labelAnchorX[i]},${labelAnchorY[i]}) rotate(-41.5)`).attr("text-anchor","end").attr("font-size",18.8).attr("fill","#333").text(constructNames[i]);
});
constructTicks.forEach(t=>{
 C.append("line").attr("x1",156).attr("x2",521).attr("y1",cy(t)).attr("y2",cy(t)).attr("stroke","#fff").attr("stroke-width",4);
});
const cAxis=C.append("g").attr("transform","translate(530,1)").call(d3.axisRight(cy).tickValues(constructTicks).tickSize(0).tickFormat(d=>d));
cAxis.select(".domain").remove();
cAxis.selectAll("text").attr("font-size",19).attr("fill","#333").attr("x",7).attr("font-family","Liberation Sans");

// ===== Panel D =====
const D=svg.append("g");
const dy=d3.scaleLinear([0,1.8],[1406.7,1163.7]);
const groupX=d3.scaleBand(timePoints,[692.5,1111]).paddingInner(.2);
const barX=d3.scaleBand(d3.range(6),[0,groupX.bandwidth()]);
[hourZero,hourOne,hourThree].forEach((vals,gi)=>{
 const x0=groupX(timePoints[gi]);
 vals.forEach((v,i)=>{
  D.append("rect").attr("x",x0+barX(i)).attr("width",barX.bandwidth()+.3).attr("y",dy(v)).attr("height",dy(0)-dy(v)).attr("fill",treatmentColors[i]);
 });
});
auxinTicks.slice(1,-1).forEach(t=>D.append("line").attr("x1",690).attr("x2",1114).attr("y1",dy(t)).attr("y2",dy(t)).attr("stroke","#fff").attr("stroke-opacity",.9).attr("stroke-width",1.6));
[hourZero,hourOne,hourThree].forEach((vals,gi)=>{
 const errs=[hourZeroErr,hourOneErr,hourThreeErr][gi],x0=groupX(timePoints[gi]);
 vals.forEach((v,i)=>{
  const xc=x0+barX(i)+barX.bandwidth()/2,e=errs[i];
  D.append("path").attr("fill","none").attr("stroke","#111").attr("stroke-width",1.5).attr("d",`M${xc-1.8},${dy(v+e)}H${xc+1.8}M${xc},${dy(v+e)}V${dy(v-e)}M${xc-1.8},${dy(v-e)}H${xc+1.8}`);
 });
 D.append("text").attr("x",x0+groupX.bandwidth()/2).attr("y",1431).attr("text-anchor","middle").attr("font-size",18).attr("fill","#333").text(timePoints[gi]);
});
const dAxis=D.append("g").attr("transform","translate(1121,8.3)").call(d3.axisRight(dy).tickValues(auxinTicks).tickSize(0).tickFormat(d=>d));
dAxis.select(".domain").remove();
dAxis.selectAll("text").attr("font-size",19).attr("fill","#333").attr("x",7).attr("font-family","Liberation Sans");
treatments.forEach((t,i)=>{
 const c=Math.floor(i/3),r=i%3,y=[1183.3,1204,1224][r];
 D.append("rect").attr("x",c?816.4:686.4).attr("y",y-7).attr("width",14).attr("height",13.5).attr("fill",treatmentColors[i]);
 D.append("text").attr("x",c?836.4:706.4).attr("y",y+6.6).attr("font-size",18.6).attr("fill","#333").text(t);
});
</script></body></html>
